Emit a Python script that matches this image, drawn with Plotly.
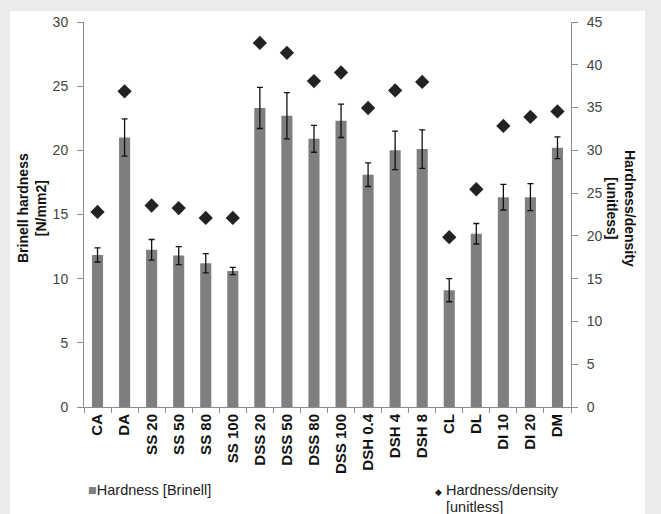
import plotly.graph_objects as go

categories = ["CA", "DA", "SS 20", "SS 50", "SS 80", "SS 100", "DSS 20", "DSS 50",
              "DSS 80", "DSS 100", "DSH 0.4", "DSH 4", "DSH 8", "CL", "DL", "DI 10",
              "DI 20", "DM"]
hardness = [11.85, 21.0, 12.25, 11.8, 11.2, 10.6, 23.3, 22.7, 20.9, 22.3, 18.1,
            20.0, 20.1, 9.1, 13.5, 16.35, 16.35, 20.2]
hardness_err = [0.55, 1.45, 0.8, 0.7, 0.75, 0.28, 1.6, 1.8, 1.05, 1.3, 0.92,
                1.5, 1.5, 0.9, 0.8, 1.0, 1.05, 0.85]
hard_density = [22.8, 36.9, 23.55, 23.25, 22.1, 22.1, 42.55, 41.4, 38.1, 39.1,
                34.95, 37.0, 38.0, 19.85, 25.45, 32.85, 33.9, 34.55]
left_ticks = [0, 5, 10, 15, 20, 25, 30]
right_ticks = [0, 5, 10, 15, 20, 25, 30, 35, 40, 45]

FONT = "Liberation Sans, Arial, Helvetica, sans-serif"
AX = "#8c8c8c"

fig = go.Figure()
fig.add_trace(go.Bar(
    x=categories, y=hardness, name="Hardness [Brinell]",
    marker=dict(color="#7f7f7f", line=dict(width=0)),
    error_y=dict(type="data", array=hardness_err, color="#111111",
                 thickness=1.3, width=3),
    yaxis="y", showlegend=False,
))
fig.add_trace(go.Scatter(
    x=categories, y=hard_density, mode="markers", name="Hardness/density [unitless]",
    marker=dict(symbol="diamond", size=11, color="#222222"),
    yaxis="y2", showlegend=False,
))

# plot area pixel geometry
L, R, T, B = 84, 90, 22, 107
W, H = 661, 514
pw, ph = W - L - R, H - T - B
def px(x):
    return (x - L) / pw
def py(y):
    return (H - B - y) / ph

fig.update_layout(
    width=W, height=H,
    margin=dict(l=L, r=R, t=T, b=B, pad=0),
    paper_bgcolor="#ebebeb",
    plot_bgcolor="rgba(0,0,0,0)",
    bargap=0.59,
    font=dict(family=FONT, color="#333333", size=14),
    xaxis=dict(
        type="category", range=[-0.5, len(categories) - 0.5],
        showline=True, linecolor=AX, linewidth=1,
        ticks="outside", tickson="boundaries", ticklen=5, tickcolor=AX,
        tickangle=-90, showgrid=False, zeroline=False,
        tickfont=dict(family=FONT, size=15, color="#111111", weight="bold"),
    ),
    yaxis=dict(
        range=[0, 30], tickvals=left_ticks, showline=True, linecolor=AX,
        linewidth=1, ticks="outside", ticklen=6, tickcolor=AX, showgrid=False,
        zeroline=False, tickfont=dict(family=FONT, size=14, color="#444444"),
        ticklabelstandoff=6,
    ),
    yaxis2=dict(
        range=[0, 45], tickvals=right_ticks, overlaying="y", side="right",
        showline=True, linecolor=AX, linewidth=1, ticks="outside", ticklen=6,
        tickcolor=AX, showgrid=False, zeroline=False,
        tickfont=dict(family=FONT, size=14, color="#444444"),
        ticklabelstandoff=6,
    ),
    shapes=[dict(type="rect", xref="paper", yref="paper", layer="below",
                 x0=px(10), x1=px(645), y0=py(11), y1=py(H + 5),
                 fillcolor="white", line=dict(width=0))],
    annotations=[
        dict(text="<b>Brinell hardness<br>[N/mm2]</b>", xref="paper", yref="paper",
             x=px(32), y=py(208), textangle=-90, showarrow=False,
             font=dict(family=FONT, size=14, color="#111111"),
             xanchor="center", yanchor="middle"),
        dict(text="<b>Hardness/density<br>[unitless]</b>", xref="paper", yref="paper",
             x=px(621), y=py(208), textangle=90, showarrow=False,
             font=dict(family=FONT, size=14, color="#111111"),
             xanchor="center", yanchor="middle"),
        dict(text="<span style='color:#7f7f7f'>■</span>Hardness [Brinell]",
             xref="paper", yref="paper", x=px(86), y=py(490), showarrow=False,
             xanchor="left", yanchor="middle",
             font=dict(family=FONT, size=14.5, color="#222222")),
        dict(text="<span style='font-size:9px'>◆</span> Hardness/density",
             xref="paper", yref="paper", x=px(433), y=py(490), showarrow=False,
             xanchor="left", yanchor="middle",
             font=dict(family=FONT, size=14.5, color="#222222")),
        dict(text="[unitless]",
             xref="paper", yref="paper", x=px(444), y=py(507), showarrow=False,
             xanchor="left", yanchor="middle",
             font=dict(family=FONT, size=14.5, color="#222222")),
    ],
)

fig.write_html(
    "out.html",
    config={"displayModeBar": False},
    post_script="document.body.style.margin='0';document.body.style.padding='0';"
                "document.documentElement.style.overflow='hidden';",
)
